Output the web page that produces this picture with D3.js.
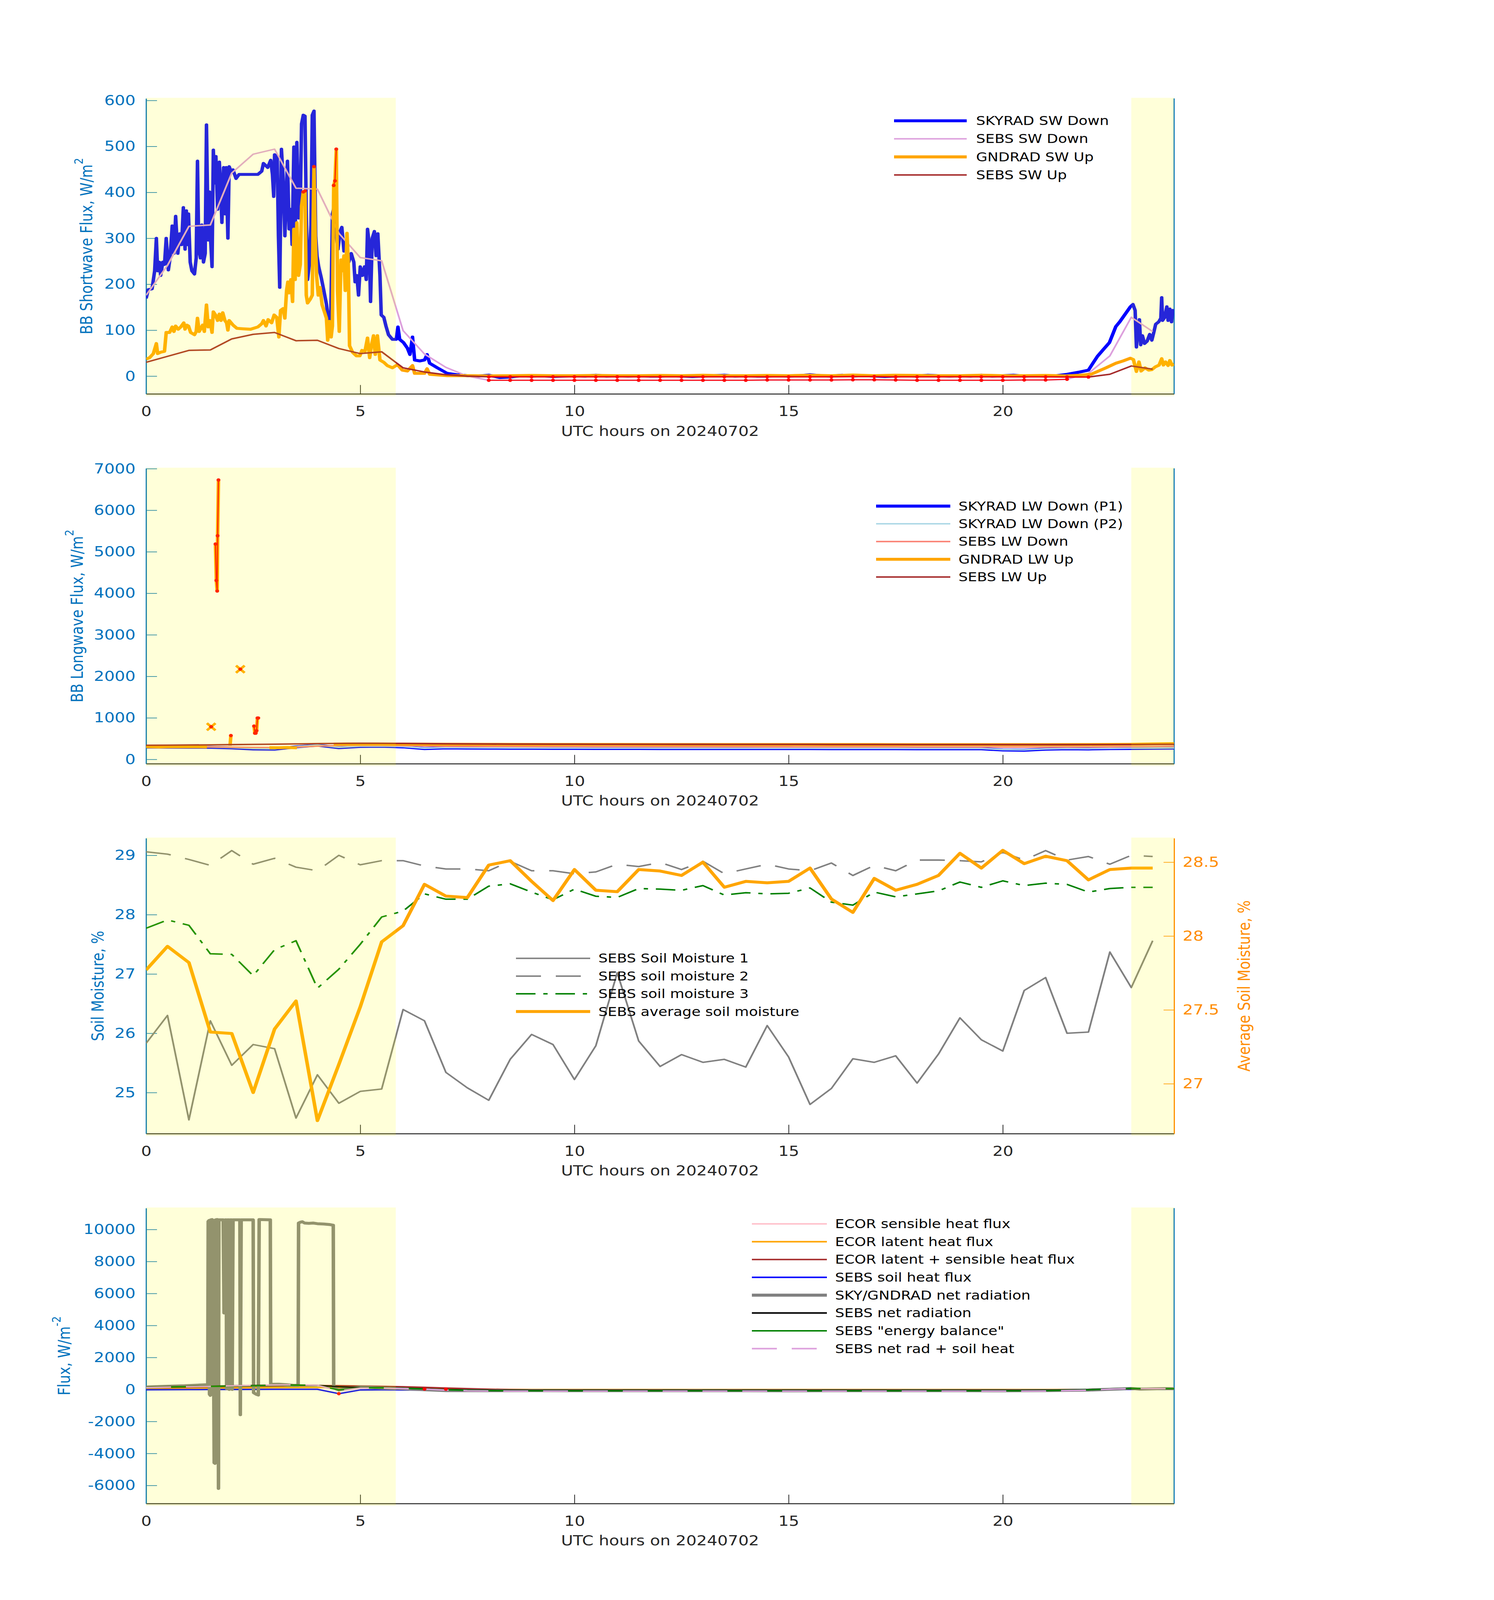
<!DOCTYPE html>
<html>
<head>
<meta charset="utf-8">
<script src="https://cdn.jsdelivr.net/npm/d3@7"></script>
<style>
  html, body { margin: 0; padding: 0; background: #fff; overflow: hidden; }
  svg { display: block; }
  svg text { font-family: "DejaVu Sans", sans-serif; }
</style>
</head>
<body>
<div id="chart"></div>
<script>
// ---------------- data ----------------
const xTicks = [0, 5, 10, 15, 20];
const xLabel = "UTC hours on 20240702";
const shadeSpans = [[0, 5.83], [23.0, 24]];
const halfHours = d3.range(49).map(i => i * 0.5);

// panel 1 : shortwave
const skySwDown = [
 [0,169],[0.05,188],[0.14,190],[0.2,229],[0.24,300],[0.27,229],[0.31,248],[0.34,219],[0.39,248],[0.43,243],
 [0.47,300],[0.52,231],[0.56,257],[0.61,327],[0.65,267],[0.69,348],[0.74,267],[0.79,310],[0.83,286],[0.87,367],
 [0.91,276],[0.94,360],[0.97,286],[0.99,353],[1.03,248],[1.07,229],[1.13,222],[1.17,257],[1.2,468],[1.23,276],
 [1.27,257],[1.3,329],[1.34,248],[1.38,267],[1.41,547],[1.45,296],[1.48,401],[1.51,291],[1.54,238],[1.57,492],
 [1.6,420],[1.63,478],[1.67,363],[1.71,466],[1.74,411],[1.77,334],[1.81,454],[1.84,353],[1.87,454],[1.91,300],
 [1.94,456],[1.99,444],[2.03,449],[2.1,430],[2.17,439],[2.38,439],[2.61,439],[2.7,446],[2.74,463],[2.84,454],
 [2.91,470],[2.95,439],[2.98,391],[3.0,482],[3.06,478],[3.09,305],[3.12,193],[3.16,494],[3.2,430],[3.24,305],
 [3.27,382],[3.3,468],[3.34,320],[3.38,363],[3.41,286],[3.45,499],[3.48,305],[3.52,509],[3.56,344],[3.6,372],
 [3.63,549],[3.67,568],[3.71,566],[3.74,353],[3.77,210],[3.81,243],[3.85,329],[3.88,568],[3.92,577],[3.96,305],
 [3.99,262],[4.03,238],[4.09,214],[4.15,186],[4.21,157],[4.27,114],[4.31,114],[4.35,353],[4.4,372],[4.44,305],
 [4.48,276],[4.53,315],[4.57,324],[4.62,272],[4.67,277],[4.73,248],[4.79,267],[4.85,248],[4.88,205],[4.92,219],
 [4.96,176],[5.0,238],[5.05,219],[5.1,238],[5.14,210],[5.17,320],[5.21,286],[5.24,162],[5.28,300],[5.33,315],
 [5.37,262],[5.41,310],[5.46,219],[5.49,133],[5.55,128],[5.6,109],[5.66,90],[5.75,80],[5.84,80],[5.88,107],
 [5.92,80],[6.01,73],[6.1,61],[6.16,47],[6.22,85],[6.27,35],[6.39,33],[6.5,35],[6.56,47],[6.62,28],
 [6.8,18],[7.03,6],[7.25,3],[7.5,1],[7.75,0],[8.0,2],[8.25,-3],[8.5,-2],[8.75,1],[9.0,0],
 [9.25,1],[9.5,-1],[9.75,0],[10.0,1],[10.25,0],[10.5,2],[10.75,0],[11.0,1],[11.25,0],[11.5,1],
 [11.75,0],[12.0,0],[12.25,1],[12.5,0],[12.75,-1],[13.0,0],[13.25,1],[13.5,2],[13.75,0],[14.0,1],
 [14.25,0],[14.5,0],[14.75,1],[15.0,0],[15.25,1],[15.5,3],[15.75,1],[16.0,0],[16.25,2],[16.5,0],
 [16.75,1],[17.0,0],[17.25,-1],[17.5,0],[17.75,1],[18.0,0],[18.25,2],[18.5,1],[18.75,0],[19.0,1],
 [19.25,0],[19.5,2],[19.75,0],[20.0,1],[20.25,2],[20.5,0],[20.75,1],[21.0,0],[21.25,1],[21.5,4],
 [21.8,9],[22.0,13],[22.09,26],[22.21,43],[22.33,56],[22.49,73],[22.64,108],[22.73,118],[22.98,151],[23.04,156],
 [23.09,143],[23.12,63],[23.16,106],[23.19,123],[23.22,68],[23.26,88],[23.31,71],[23.37,76],[23.43,91],[23.48,78],
 [23.52,93],[23.57,113],[23.64,118],[23.69,126],[23.71,171],[23.73,121],[23.78,128],[23.83,151],[23.86,121],[23.9,146],
 [23.94,118],[23.97,143],[24.0,138]];

const sebsSwDown = [176,241,326,329,442,483,494,409,407,311,258,251,99,48,19,0,
 -9,-9,-9,-9,-9,-9,-9, -9,-9,-9,-9,-9,-9,-8.5, -8.5,-8.5,-8.5,-8,-8,-8.5,-9, -9,-9,-9,-9,-8.5,-8.5,-7,
 6,44,128,97];

const gndSwUp = [
 [0,37],[0.08,40],[0.17,49],[0.24,71],[0.27,49],[0.34,52],[0.43,54],[0.47,95],[0.55,95],[0.61,107],
 [0.65,97],[0.69,109],[0.75,102],[0.81,107],[0.88,116],[0.91,102],[0.95,111],[0.99,109],[1.04,95],[1.13,90],
 [1.17,97],[1.2,126],[1.24,97],[1.32,111],[1.36,97],[1.41,155],[1.45,107],[1.49,121],[1.54,95],[1.57,140],
 [1.62,133],[1.67,121],[1.71,135],[1.75,121],[1.79,138],[1.84,121],[1.88,116],[1.91,100],[1.94,121],[2.03,111],
 [2.12,104],[2.26,103],[2.44,102],[2.61,107],[2.7,114],[2.74,121],[2.8,109],[2.85,123],[2.93,116],[2.99,133],
 [3.05,128],[3.1,85],[3.14,143],[3.2,147],[3.24,126],[3.28,186],[3.31,205],[3.34,181],[3.38,210],[3.42,162],
 [3.45,320],[3.48,210],[3.52,334],[3.56,219],[3.6,243],[3.63,370],[3.67,401],[3.71,403],[3.74,176],[3.77,159],
 [3.83,167],[3.88,176],[3.9,334],[3.92,456],[3.95,305],[3.98,219],[4.02,176],[4.06,193],[4.11,155],[4.17,138],
 [4.21,126],[4.24,78],[4.28,119],[4.32,85],[4.35,109],[4.38,415],[4.41,425],[4.44,494],[4.47,186],[4.51,97],
 [4.55,253],[4.58,229],[4.62,262],[4.65,186],[4.69,311],[4.72,248],[4.75,66],[4.82,52],[4.91,44],[4.99,44],
 [5.04,56],[5.11,54],[5.17,83],[5.22,40],[5.26,66],[5.31,88],[5.35,47],[5.4,88],[5.46,35],[5.55,30],
 [5.63,23],[5.75,18],[5.87,25],[5.98,13],[6.1,11],[6.22,23],[6.27,6],[6.5,6],[6.56,16],[6.62,4],
 [7.03,1],[7.5,1],[8,0.5],[8.5,1],[9,1.5],[9.5,1],[10,1],[10.5,1.5],[11,1],[11.5,1],
 [12,1.5],[12.5,1],[13,2],[13.5,1],[14,1],[14.5,1.5],[15,1],[15.5,2],[16,1],[16.5,2.5],
 [17,1],[17.5,2],[18,1.5],[18.5,1],[19,1],[19.5,2],[20,1],[20.5,1],[21,1.5],[21.5,0.5],
 [21.8,2],[22.06,4],[22.21,10],[22.41,18],[22.64,28],[22.81,33],[22.98,39],[23.05,36],[23.12,10],[23.18,31],
 [23.23,11],[23.32,18],[23.41,13],[23.48,14],[23.56,20],[23.65,24],[23.71,38],[23.75,24],[23.8,31],[23.86,23],
 [23.9,34],[23.95,24],[24,26]];

const sebsSwUp = [30,43,56,57,81,91,95,77,78,60,49,53,18,9,3,0,
 -1.5,-1.5,-1.5,-1.5,-1.5,-1.5,-1.5, -1.5,-1.5,-1.5,-1.5,-1.5,-1.5,-1.5, -1.5,-1.5,-1.5,-1,-1,-1.5,-1.5, -1.5,-1.5,-1.5,-1.5,-1.5,-1.5,-2,
 -2,4,22,15];

// panel 2 : longwave
const skyLwP1 = [297,295,292,290,275,250,245,300,340, 280,310,315,300,258,275,270,268,266,
 265,264,263,262,262,261,260,260,260, 259,259,258,258,258,257,257,256,256,
 255,255,255,255,225,220,245,255,250, 258,262,265,270];
const skyLwP2 = [305,303,300,298,285,262,255,305,345, 290,318,322,308,268,283,278,276,274,
 273,272,271,270,270,269,268,268,268, 267,267,266,266,266,265,265,264,264,
 263,263,263,262,235,230,252,262,258, 265,270,272,276];
const sebsLwDown = [312,310,306,300,295,288,285,295,318, 332,340,338,330,320,315,312,310,309,
 308,307,306,305,305,304,304,303,303, 302,302,301,301,300,300,300,299,299,
 298,298,297,297,296,296,296,297,298, 300,305,310,315];
const gndLwUp = [
 [0,305],[0.3,300],[0.6,306],[0.9,303],[1.2,305],[1.42,300],[1.45,null],[1.52,785],[1.55,null],
 [1.62,5185],[1.64,4308],[1.66,4053],[1.67,5385],[1.69,6728],[1.72,null],[1.96,330],[1.98,574],[2.0,null],
 [2.2,2172],[2.25,null],[2.52,802],[2.54,630],[2.56,630],[2.58,690],[2.6,996],[2.62,996],[2.65,null],
 [2.88,282],[3.1,280],[3.3,286],[3.52,278],[3.55,null],[4.38,366],[4.7,372],[5.0,370],[5.4,371],[5.8,368],
 [6.2,366],[7,364],[8,362],[9,360],[10,360],[11,359],[12,358],[13,358],[14,357],[15,357],[16,356],
 [17,356],[18,355],[19,355],[20,354],[21,354],[22,356],[23,362],[23.5,372],[24,378]];
const sebsLwUp = [340,343,346,350,355,360,365,372,380, 385,388,386,384,380,376,372,370,368,
 367,366,365,364,364,363,363,362,362, 361,361,360,360,360,359,359,358,358,
 357,357,356,356,355,355,355,355,356, 357,358,360,362];

// panel 3 : soil moisture (0 .. 23.5 h)
const soilM1 = [25.83,26.30,24.54,26.21,25.46,25.81,25.74,24.57,25.30,24.82,25.02,25.06,26.40,26.21,25.34,25.08,
 24.87,25.56,25.98,25.81,25.22,25.79,27.02,25.87,25.44,25.64,25.51,25.56,25.43,26.13,25.60,
 24.80,25.07,25.57,25.51,25.62,25.16,25.65,26.26,25.89,25.70,26.72,26.94,26.00,26.02,27.37,26.77,27.56];
const soilM2 = [29.06,29.02,28.93,28.83,29.08,28.85,28.95,28.80,28.74,29.00,28.84,28.91,28.91,28.82,28.77,28.77,
 28.74,28.90,28.74,28.74,28.69,28.72,28.85,28.81,28.88,28.76,28.90,28.69,28.77,28.85,28.77,
 28.74,28.87,28.66,28.83,28.74,28.92,28.92,28.91,28.89,29.05,28.92,29.08,28.92,28.98,28.85,29.00,28.98];
const soilM3 = [27.77,27.91,27.82,27.34,27.33,26.97,27.41,27.56,26.76,27.08,27.50,27.96,28.06,28.35,28.26,28.26,
 28.48,28.52,28.38,28.25,28.43,28.31,28.29,28.44,28.43,28.41,28.49,28.33,28.37,28.35,28.36,
 28.45,28.21,28.16,28.38,28.30,28.35,28.40,28.55,28.46,28.57,28.49,28.53,28.51,28.38,28.44,28.46,28.46];
const soilAvg = [27.77,27.93,27.82,27.35,27.34,26.94,27.37,27.56,26.75,27.13,27.52,27.96,28.07,28.35,28.27,28.26,
 28.48,28.51,28.37,28.24,28.45,28.31,28.30,28.45,28.44,28.41,28.50,28.33,28.37,28.36,28.37,
 28.46,28.25,28.16,28.39,28.31,28.35,28.41,28.56,28.46,28.58,28.49,28.54,28.51,28.38,28.45,28.46,28.46];

// panel 4 : surface energy fluxes
const ecorSens = [40,50,60,70,80,90,100,105,110, 110,100,90,80,60,40,20,5,-10,
 -15,-20,-20,-20,-25,-25,-25,-25,-25, -25,-25,-25,-25,-25,-25,-25,-25,-25,
 -25,-25,-25,-25,-25,-25,-20,-15,-5, 10,20,25,25];
const ecorLat = [60,70,80,90,100,110,120,125,130, 125,115,100,90,70,50,30,10,0,
 -5,-5,-5,-5,-5,-5,-5,-5,-5, -5,-5,-5,-5,-5,-5,-5,-5,-5,
 -5,-5,-5,-5,-5,-5,-5,0,5, 15,25,30,30];
const ecorSum = [100,120,140,160,180,200,220,230,240, 235,215,190,170,130,90,50,15,-10,
 -20,-25,-25,-25,-30,-30,-30,-30,-30, -30,-30,-30,-30,-30,-30,-30,-30,-30,
 -30,-30,-30,-30,-30,-30,-25,-15,0, 25,45,55,55];
const sebsSoil = [-20,-15,-10,-5,0,5,10,10,8, -263,-30,-20,-30,-35,-40,-42,-45,-45,
 -45,-45,-45,-45,-45,-45,-45,-45,-45, -45,-45,-45,-45,-45,-45,-45,-45,-45,
 -45,-45,-45,-45,-45,-45,-40,-35,-25, -10,0,5,5];
const skyGndNet = [
 [0,150],[0.3,180],[0.6,210],[0.9,230],[1.2,270],[1.44,300],[1.45,10500],[1.47,10560],[1.48,-300],[1.5,-370],
 [1.51,10600],[1.54,10620],[1.56,10580],[1.57,5000],[1.59,-4580],[1.61,-4620],[1.62,10600],[1.66,10620],[1.68,10600],[1.69,-6190],
 [1.7,10600],[1.8,10600],[1.82,4780],[1.84,4800],[1.85,10600],[1.87,10600],[1.88,50],[1.9,10600],[1.93,10600],[1.94,0],
 [1.96,10600],[2.0,10600],[2.01,0],[2.03,10600],[2.19,10600],[2.2,-1580],[2.22,10600],[2.5,10600],[2.51,-200],[2.57,-300],
 [2.62,-350],[2.64,10620],[2.9,10600],[2.91,320],[3.1,330],[3.3,290],[3.45,250],[3.55,260],[3.56,10400],[3.6,10450],
 [3.65,10480],[3.7,10400],[3.8,10380],[3.9,10400],[4.0,10360],[4.15,10340],[4.3,10300],[4.37,10260],[4.38,100],[4.5,-30],
 [4.7,60],[5.0,150],[5.3,120],[5.6,80],[6.0,40],[6.5,-20],[7,-70],[8,-80],[9,-75],[10,-80],
 [11,-78],[12,-80],[13,-76],[14,-80],[15,-82],[16,-78],[17,-80],[18,-76],[19,-80],[20,-82],
 [21,-75],[22,-40],[22.5,10],[23,60],[23.2,20],[23.5,40],[23.8,55],[24,50]];
const sebsNet = [140,160,180,200,230,250,270,280,256, 170,120,110,80,40,-10,-40,-55,-60,
 -60,-60,-60,-60,-60,-60,-60,-60,-60, -60,-60,-60,-60,-60,-60,-60,-60,-60,
 -60,-60,-60,-60,-60,-60,-55,-40,-10, 30,60,50,45];
const sebsBalance = [130,150,180,190,210,230,260,270,250, -30,100,110,80,30,-20,-50,-70,-80,
 -80,-80,-80,-80,-80,-80,-80,-80,-80, -80,-80,-80,-80,-80,-80,-80,-80,-80,
 -80,-80,-80,-80,-80,-80,-75,-50,-20, 30,70,60,50];
const sebsNetSoil = [120,145,170,195,230,255,280,290,260, -90,90,90,60,20,-40,-80,-95,-100,
 -100,-100,-100,-100,-100,-100,-100,-100,-100, -100,-100,-100,-100,-100,-100,-100,-100,-100,
 -100,-100,-100,-100,-100,-100,-95,-70,-40, 20,60,55,50];
const fluxFlags = [[4.5,-263],[6.5,25],[7.0,20]];

// ---------------- layout ----------------
const W = 3825, H = 4875, PH = 900;
const axisBlue = "#0072bd", axisDark = "#262626", axisOrange = "#ff8c00";
const thick = 9, thin = 4.5;

// drawn in a fixed 3825x4875 coordinate box, stretched to whatever the window gives
const svg = d3.select("#chart").append("svg")
    .attr("viewBox", [0, 0, W, H])
    .attr("preserveAspectRatio", "none")
    .attr("width", window.innerWidth || W)
    .attr("height", window.innerHeight || H);
svg.append("rect").attr("width", W).attr("height", H).attr("fill", "#fff");

const x = d3.scaleLinear().domain([0, 24]).range([374, 3006]);
const lineFor = y => d3.line().defined(d => d[1] != null).x(d => x(d[0])).y(d => y(d[1]));
const zip = vals => vals.map((v, i) => [halfHours[i], v]);

function makePanel(id, top, domain, ticks, label, sup, labelX, rightLine) {
    const y = d3.scaleLinear().domain(domain).range([top + PH, top]);
    const g = svg.append("g");
    g.append("clipPath").attr("id", "clip" + id)
        .append("rect").attr("x", x(0)).attr("y", top).attr("width", x(24) - x(0)).attr("height", PH);

    const xa = g.append("g")
        .attr("transform", `translate(0,${top + PH})`)
        .call(d3.axisBottom(x).tickValues(xTicks).tickFormat(d => String(d))
            .tickSizeInner(-27).tickSizeOuter(0).tickPadding(38));
    xa.select(".domain").attr("stroke", axisDark).attr("stroke-width", 3);
    xa.selectAll(".tick line").attr("stroke", axisDark).attr("stroke-width", 2);
    xa.selectAll(".tick text").attr("fill", axisDark).attr("font-size", 42);

    g.append("text")
        .attr("x", (x(0) + x(24)) / 2).attr("y", top + PH + 113).attr("dy", "0.35em")
        .attr("text-anchor", "middle").attr("font-size", 42).attr("fill", axisDark)
        .text(xLabel);

    const ya = g.append("g")
        .attr("transform", `translate(${x(0)},0)`)
        .call(d3.axisLeft(y).tickValues(ticks).tickFormat(d => String(d))
            .tickSizeInner(-28).tickSizeOuter(0).tickPadding(27));
    ya.select(".domain").attr("stroke", axisBlue).attr("stroke-width", 3);
    ya.selectAll(".tick line").attr("stroke", axisBlue).attr("stroke-width", 2);
    ya.selectAll(".tick text").attr("fill", axisBlue).attr("font-size", 42);

    const t = g.append("text")
        .attr("transform", `translate(${labelX},${top + PH / 2}) rotate(-90)`)
        .attr("text-anchor", "middle").attr("dy", "0.35em")
        .attr("font-size", 42).attr("fill", axisBlue);
    t.append("tspan").text(label);
    if (sup) t.append("tspan").attr("dy", "-0.75em").attr("font-size", 31).text(sup);

    if (rightLine) {
        g.append("line").attr("x1", x(24)).attr("x2", x(24)).attr("y1", top).attr("y2", top + PH)
            .attr("stroke", axisBlue).attr("stroke-width", 3);
    }
    const plot = g.append("g").attr("clip-path", `url(#clip${id})`);
    return { g, plot, y, top };
}

function drawLine(p, data, color, w, dash, yScale) {
    p.plot.append("path")
        .datum(data)
        .attr("d", lineFor(yScale || p.y))
        .attr("fill", "none")
        .attr("stroke", color)
        .attr("stroke-width", w)
        .attr("stroke-linejoin", "round")
        .attr("stroke-dasharray", dash || null);
}

// red markers on points a quality test flags, joined where consecutive
function drawFlags(p, data, test) {
    const segs = [];
    let cur = [];
    data.forEach(d => {
        if (d[1] != null && test(d[1])) cur.push(d);
        else { if (cur.length) segs.push(cur); cur = []; }
    });
    if (cur.length) segs.push(cur);
    segs.forEach(s => {
        if (s.length > 1) p.plot.append("path").datum(s).attr("d", lineFor(p.y))
            .attr("fill", "none").attr("stroke", "#ff0000").attr("stroke-width", 3);
    });
    p.plot.append("g").selectAll("circle")
        .data(segs.flat())
        .enter().append("circle")
        .attr("cx", d => x(d[0])).attr("cy", d => p.y(d[1]))
        .attr("r", 5).attr("fill", "#ff0000");
}

function legend(p, items, x0, x1, xt, y0, dy) {
    items.forEach((it, i) => {
        const yy = y0 + i * dy;
        p.g.append("line").attr("x1", x0).attr("x2", x1).attr("y1", yy).attr("y2", yy)
            .attr("stroke", it.color).attr("stroke-width", it.w)
            .attr("stroke-dasharray", it.dash || null);
        p.g.append("text").attr("x", xt).attr("y", yy).attr("dy", "0.35em")
            .attr("font-size", 37.5).attr("fill", "#000").text(it.name);
    });
}

// night shading is laid over everything, like a translucent patch
function shade(p) {
    p.g.append("g").selectAll("rect")
        .data(shadeSpans)
        .enter().append("rect")
        .attr("x", d => x(d[0])).attr("width", d => x(d[1]) - x(d[0]))
        .attr("y", p.top - 2).attr("height", PH + 9)
        .attr("fill", "#ffff00").attr("fill-opacity", 0.15);
}

// ---------- panel 1 ----------
const p1 = makePanel(1, 300, [-38.6, 604.3], [0, 100, 200, 300, 400, 500, 600],
    "BB Shortwave Flux, W/m", "2", 221, true);
drawLine(p1, skySwDown, "#0000ff", thick);
drawLine(p1, zip(sebsSwDown), "#dda0dd", thin);
drawLine(p1, gndSwUp, "#ffa500", thick);
drawLine(p1, zip(sebsSwUp), "#a52a2a", thin);
drawFlags(p1, zip(sebsSwDown), v => v < 0);
drawFlags(p1, zip(sebsSwUp), v => v < 0);
drawFlags(p1, gndSwUp, v => v > 400);
legend(p1, [
    { name: "SKYRAD SW Down", color: "#0000ff", w: thick },
    { name: "SEBS SW Down", color: "#dda0dd", w: thin },
    { name: "GNDRAD SW Up", color: "#ffa500", w: thick },
    { name: "SEBS SW Up", color: "#a52a2a", w: thin }
], 2289, 2475, 2499, 368, 55);
shade(p1);

// ---------- panel 2 ----------
const p2 = makePanel(2, 1427, [-105, 7008], [0, 1000, 2000, 3000, 4000, 5000, 6000, 7000],
    "BB Longwave Flux, W/m", "2", 197, true);
drawLine(p2, zip(skyLwP1), "#0000ff", thick);
drawLine(p2, zip(skyLwP2), "#add8e6", thin);
drawLine(p2, zip(sebsLwDown), "#fa8072", thin);
drawLine(p2, gndLwUp, "#ffa500", thick);
// lone samples show up as crosses
const lonePts = gndLwUp.filter((d, i, a) => d[1] != null &&
    (i === 0 || a[i - 1][1] == null) && (i === a.length - 1 || a[i + 1][1] == null));
p2.plot.append("g").selectAll("path")
    .data(lonePts)
    .enter().append("path")
    .attr("transform", d => `translate(${x(d[0])},${p2.y(d[1])})`)
    .attr("d", "M-11,-11L11,11M-11,11L11,-11")
    .attr("stroke", "#ffa500").attr("stroke-width", 7).attr("fill", "none");
drawLine(p2, zip(sebsLwUp), "#a52a2a", thin);
drawFlags(p2, gndLwUp, v => v > 500);
legend(p2, [
    { name: "SKYRAD LW Down (P1)", color: "#0000ff", w: thick },
    { name: "SKYRAD LW Down (P2)", color: "#add8e6", w: thin },
    { name: "SEBS LW Down", color: "#fa8072", w: thin },
    { name: "GNDRAD LW Up", color: "#ffa500", w: thick },
    { name: "SEBS LW Up", color: "#a52a2a", w: thin }
], 2243, 2433, 2454, 1542, 54);
shade(p2);

// ---------- panel 3 ----------
const p3 = makePanel(3, 2554, [24.308, 29.288], [25, 26, 27, 28, 29],
    "Soil Moisture, %", null, 250, false);
const yRight = d3.scaleLinear().domain([26.662, 28.662]).range([2554 + PH, 2554]);
const ra = p3.g.append("g")
    .attr("transform", `translate(${x(24)},0)`)
    .call(d3.axisRight(yRight).tickValues([27, 27.5, 28, 28.5]).tickFormat(d => String(d))
        .tickSizeInner(-27).tickSizeOuter(0).tickPadding(22));
ra.select(".domain").attr("stroke", axisOrange).attr("stroke-width", 3);
ra.selectAll(".tick line").attr("stroke", axisOrange).attr("stroke-width", 2);
ra.selectAll(".tick text").attr("fill", axisOrange).attr("font-size", 42);
p3.g.append("text")
    .attr("transform", `translate(3185,${2554 + PH / 2}) rotate(-90)`)
    .attr("text-anchor", "middle").attr("dy", "0.35em")
    .attr("font-size", 42).attr("fill", axisOrange)
    .text("Average Soil Moisture, %");
drawLine(p3, zip(soilM1), "#808080", thin);
drawLine(p3, zip(soilM2), "#808080", thin, "64,38");
drawLine(p3, zip(soilM3), "#008000", thin, "50,20,11,20");
drawLine(p3, zip(soilAvg), "#ffa500", thick, null, yRight);
legend(p3, [
    { name: "SEBS Soil Moisture 1", color: "#808080", w: thin },
    { name: "SEBS soil moisture 2", color: "#808080", w: thin, dash: "64,38" },
    { name: "SEBS soil moisture 3", color: "#008000", w: thin, dash: "50,20,11,20" },
    { name: "SEBS average soil moisture", color: "#ffa500", w: thick }
], 1321, 1511, 1532, 2920, 54);
shade(p3);

// ---------- panel 4 ----------
const p4 = makePanel(4, 3681, [-7128, 11333], [-6000, -4000, -2000, 0, 2000, 4000, 6000, 8000, 10000],
    "Flux, W/m", "-2", 164, true);
drawLine(p4, zip(ecorSens), "#ffc0cb", thin);
drawLine(p4, zip(ecorLat), "#ffa500", thin);
drawLine(p4, zip(ecorSum), "#a52a2a", thin);
drawLine(p4, zip(sebsSoil), "#0000ff", thin);
drawLine(p4, skyGndNet, "#808080", thick);
drawLine(p4, zip(sebsNet), "#000000", thin);
drawLine(p4, zip(sebsBalance), "#008000", thin);
drawLine(p4, zip(sebsNetSoil), "#dda0dd", thin, "64,38");
p4.plot.append("g").selectAll("circle")
    .data(fluxFlags)
    .enter().append("circle")
    .attr("cx", d => x(d[0])).attr("cy", d => p4.y(d[1]))
    .attr("r", 5).attr("fill", "#ff0000");
legend(p4, [
    { name: "ECOR sensible heat flux", color: "#ffc0cb", w: thin },
    { name: "ECOR latent heat flux", color: "#ffa500", w: thin },
    { name: "ECOR latent + sensible heat flux", color: "#a52a2a", w: thin },
    { name: "SEBS soil heat flux", color: "#0000ff", w: thin },
    { name: "SKY/GNDRAD net radiation", color: "#808080", w: thick },
    { name: "SEBS net radiation", color: "#000000", w: thin },
    { name: "SEBS \"energy balance\"", color: "#008000", w: thin },
    { name: "SEBS net rad + soil heat", color: "#dda0dd", w: thin, dash: "64,38" }
], 1925, 2117, 2138, 3729, 54.3);
shade(p4);
</script>
</body>
</html>
